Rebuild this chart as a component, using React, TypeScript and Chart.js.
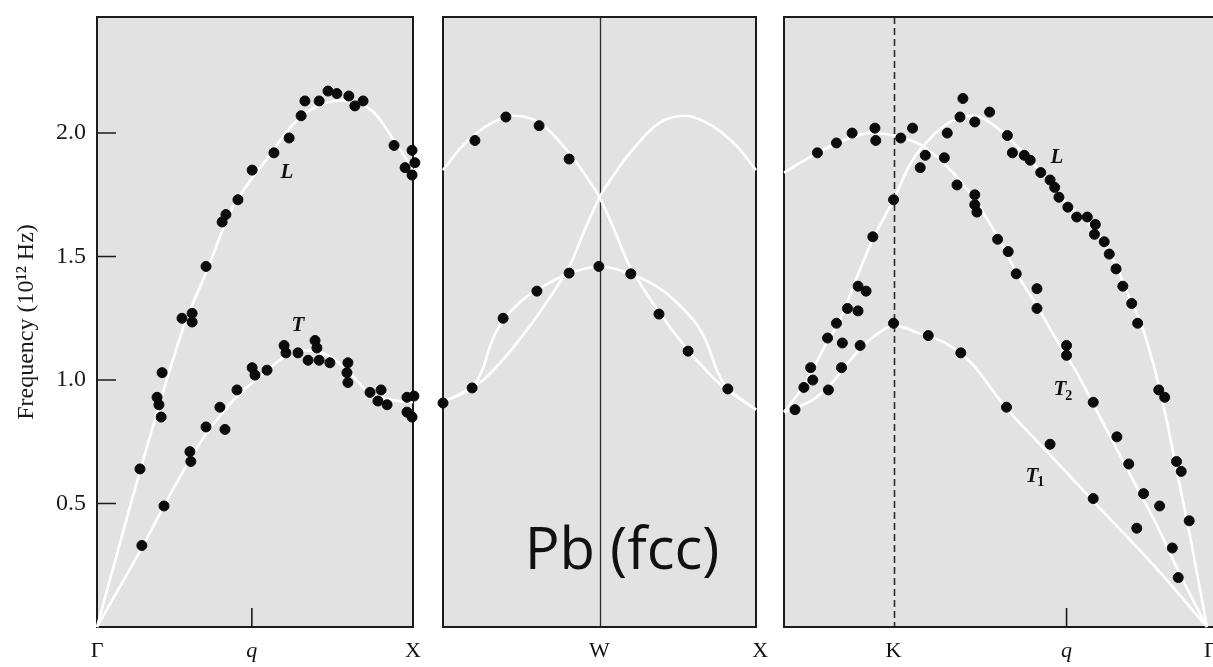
import React, { useEffect, useRef } from "react";
import { Chart, registerables } from "chart.js";

Chart.register(...registerables);

const W = 1213;
const H = 667;
const SERIF = "'Liberation Serif', 'DejaVu Serif', serif";

// ---------- shared axis ----------
const Y_MAX = 2.47;
const yTicks = [0.5, 1.0, 1.5, 2.0];
const yTitle = "Frequency (10¹² Hz)";

// ---------- panel 1 : Γ → X ----------
const p1TickPos = [0, 0.49, 1];
const p1TickLabels = ["Γ", "q", "X"];
const p1InnerTicks = [0.49];
const p1CurveL = [
  [0, 0], [0.136, 0.63], [0.27, 1.2], [0.35, 1.45], [0.43, 1.7], [0.54, 1.9],
  [0.64, 2.06], [0.75, 2.13], [0.86, 2.1], [0.94, 1.97], [1, 1.85],
];
const p1CurveT = [
  [0, 0], [0.142, 0.32], [0.212, 0.49], [0.29, 0.67], [0.35, 0.79], [0.44, 0.93],
  [0.54, 1.04], [0.6, 1.1], [0.66, 1.12], [0.73, 1.1], [0.8, 1.03], [0.86, 0.95],
  [0.93, 0.92], [1, 0.91],
];
const p1Dots = [
  [0.142, 0.33], [0.136, 0.64], [0.19, 0.93], [0.196, 0.9], [0.203, 0.85], [0.206, 1.03],
  [0.212, 0.49], [0.269, 1.25], [0.294, 0.71], [0.297, 0.67], [0.301, 1.27], [0.301, 1.235],
  [0.345, 1.46], [0.345, 0.81], [0.389, 0.89], [0.396, 1.64], [0.405, 0.8], [0.408, 1.67],
  [0.443, 0.96], [0.446, 1.73], [0.491, 1.85], [0.491, 1.05], [0.5, 1.02], [0.538, 1.04],
  [0.56, 1.92], [0.592, 1.14], [0.598, 1.11], [0.608, 1.98], [0.636, 1.11], [0.646, 2.07],
  [0.658, 2.13], [0.668, 1.08], [0.69, 1.16], [0.696, 1.13], [0.703, 1.08], [0.703, 2.13],
  [0.731, 2.17], [0.737, 1.07], [0.759, 2.16], [0.791, 1.03], [0.794, 1.07], [0.794, 0.99],
  [0.797, 2.15], [0.816, 2.11], [0.842, 2.13], [0.864, 0.95], [0.889, 0.915], [0.899, 0.96],
  [0.918, 0.9], [0.94, 1.95], [0.975, 1.86], [0.981, 0.93], [0.981, 0.87], [0.997, 1.93],
  [0.997, 1.83], [0.997, 0.85], [1.003, 0.935], [1.006, 1.88],
];
const p1Notes = [
  { text: "L", sub: "", x: 0.601, y: 1.84 },
  { text: "T", sub: "", x: 0.636, y: 1.22 },
];

// ---------- panel 2 : X → W → X ----------
const p2TickPos = [0.5, 1.013];
const p2TickLabels = ["W", "X"];
const p2Divider = 0.5;
const p2Curve1 = [
  [0, 1.85], [0.064, 1.95], [0.141, 2.03], [0.224, 2.07], [0.31, 2.04], [0.396, 1.93],
  [0.46, 1.82], [0.5, 1.74], [0.55, 1.6], [0.597, 1.46], [0.693, 1.27], [0.783, 1.12],
  [0.863, 1.01], [0.907, 0.96], [1, 0.88],
];
const p2Curve2 = [
  [0, 0.91], [0.093, 0.97], [0.137, 1.01], [0.217, 1.12], [0.307, 1.27], [0.403, 1.46],
  [0.45, 1.6], [0.5, 1.74], [0.54, 1.82], [0.604, 1.93], [0.69, 2.04], [0.776, 2.07],
  [0.859, 2.03], [0.936, 1.95], [1, 1.85],
];
const p2Curve3 = [
  [0, 0.91], [0.093, 0.97], [0.125, 1.04], [0.157, 1.16], [0.192, 1.24], [0.25, 1.32],
  [0.307, 1.37], [0.4, 1.43], [0.5, 1.46], [0.6, 1.43], [0.693, 1.37], [0.75, 1.31],
  [0.808, 1.23], [0.843, 1.15], [0.875, 1.04], [0.907, 0.97], [1, 0.88],
];
const p2Dots = [
  [0.102, 1.97], [0.201, 2.065], [0.307, 2.03], [0.403, 1.895], [0, 0.907], [0.093, 0.968],
  [0.192, 1.25], [0.3, 1.36], [0.403, 1.433], [0.498, 1.46], [0.6, 1.43], [0.69, 1.267],
  [0.783, 1.117], [0.91, 0.964],
];
const p2Title = { text: "Pb (fcc)", x: 0.572, y: 0.231 };

// ---------- panel 3 : X → K → Γ ----------
const p3TickPos = [0.259, 0.668, 1.008];
const p3TickLabels = ["K", "q", "Γ"];
const p3InnerTicks = [0.668];
const p3Divider = 0.259;
const p3CurveT2 = [
  [0, 1.84], [0.079, 1.92], [0.154, 1.98], [0.206, 2.0], [0.259, 1.99], [0.325, 1.95],
  [0.388, 1.86], [0.451, 1.73], [0.505, 1.58], [0.551, 1.43], [0.598, 1.3], [0.645, 1.16],
  [0.692, 1.03], [0.738, 0.88], [0.808, 0.65], [0.879, 0.42], [0.937, 0.21], [1, 0],
];
const p3CurveL = [
  [0, 0.87], [0.044, 0.97], [0.068, 1.04], [0.091, 1.12], [0.131, 1.24], [0.173, 1.42],
  [0.213, 1.58], [0.259, 1.73], [0.294, 1.86], [0.325, 1.94], [0.388, 2.04], [0.451, 2.07],
  [0.505, 2.02], [0.582, 1.89], [0.661, 1.73], [0.738, 1.6], [0.778, 1.49], [0.815, 1.34],
  [0.848, 1.21], [0.89, 0.95], [0.93, 0.62], [0.963, 0.34], [1, 0],
];
const p3CurveT1 = [
  [0, 0.87], [0.068, 0.92], [0.114, 0.99], [0.161, 1.09], [0.208, 1.17], [0.259, 1.22],
  [0.318, 1.19], [0.381, 1.15], [0.442, 1.07], [0.488, 0.97], [0.528, 0.88], [0.633, 0.69],
  [0.731, 0.51], [0.879, 0.24], [1, 0],
];
const p3Dots = [
  [0.026, 0.88], [0.047, 0.97], [0.063, 1.05], [0.068, 1.0], [0.079, 1.92], [0.103, 1.17],
  [0.105, 0.96], [0.124, 1.23], [0.124, 1.96], [0.136, 1.05], [0.138, 1.15], [0.15, 1.29],
  [0.161, 2.0], [0.175, 1.38], [0.175, 1.28], [0.18, 1.14], [0.194, 1.36], [0.21, 1.58],
  [0.215, 2.02], [0.217, 1.97], [0.259, 1.73], [0.259, 1.23], [0.276, 1.98], [0.304, 2.02],
  [0.322, 1.86], [0.334, 1.91], [0.341, 1.18], [0.379, 1.9], [0.386, 2.0], [0.409, 1.79],
  [0.416, 2.065], [0.418, 1.11], [0.423, 2.14], [0.451, 2.045], [0.451, 1.75], [0.451, 1.71],
  [0.456, 1.68], [0.486, 2.085], [0.505, 1.57], [0.526, 0.89], [0.528, 1.99], [0.53, 1.52],
  [0.54, 1.92], [0.549, 1.43], [0.568, 1.91], [0.582, 1.89], [0.598, 1.37], [0.598, 1.29],
  [0.607, 1.84], [0.629, 1.81], [0.629, 0.74], [0.64, 1.78], [0.65, 1.74], [0.668, 1.14],
  [0.668, 1.1], [0.671, 1.7], [0.692, 1.66], [0.717, 1.66], [0.731, 0.91], [0.731, 0.52],
  [0.734, 1.59], [0.736, 1.63], [0.757, 1.56], [0.769, 1.51], [0.785, 1.45], [0.787, 0.77],
  [0.801, 1.38], [0.815, 0.66], [0.822, 1.31], [0.834, 0.4], [0.836, 1.23], [0.85, 0.54],
  [0.886, 0.96], [0.888, 0.49], [0.9, 0.93], [0.918, 0.32], [0.928, 0.67], [0.932, 0.2],
  [0.939, 0.63], [0.958, 0.43],
];
const p3Notes = [
  { text: "L", sub: "", x: 0.645, y: 1.9 },
  { text: "T", sub: "2", x: 0.652, y: 0.96 },
  { text: "T", sub: "1", x: 0.586, y: 0.61 },
];

type Note = { text: string; sub: string; x: number; y: number };
type Panel = {
  area: { left: number; right: number; top: number; bottom: number };
  curves: number[][][];
  dots: number[][];
  tickPos: number[];
  tickLabels: string[];
  innerTicks: number[];
  divider: number | null;
  dashed: boolean;
  showY: boolean;
  openRight: boolean;
  notes: Note[];
  bigText: { text: string; x: number; y: number } | null;
};

const panels: Panel[] = [
  {
    area: { left: 97, right: 413, top: 17, bottom: 627 },
    curves: [p1CurveL, p1CurveT],
    dots: p1Dots,
    tickPos: p1TickPos,
    tickLabels: p1TickLabels,
    innerTicks: p1InnerTicks,
    divider: null,
    dashed: false,
    showY: true,
    openRight: false,
    notes: p1Notes,
    bigText: null,
  },
  {
    area: { left: 443, right: 756, top: 17, bottom: 627 },
    curves: [p2Curve1, p2Curve2, p2Curve3],
    dots: p2Dots,
    tickPos: p2TickPos,
    tickLabels: p2TickLabels,
    innerTicks: [],
    divider: p2Divider,
    dashed: false,
    showY: false,
    openRight: false,
    notes: [],
    bigText: p2Title,
  },
  {
    area: { left: 784, right: 1212, top: 17, bottom: 627 },
    curves: [p3CurveT2, p3CurveL, p3CurveT1],
    dots: p3Dots,
    tickPos: p3TickPos,
    tickLabels: p3TickLabels,
    innerTicks: p3InnerTicks,
    divider: p3Divider,
    dashed: true,
    showY: false,
    openRight: true,
    notes: p3Notes,
    bigText: null,
  },
];

function decorPlugin(p: Panel) {
  return {
    id: "panelDecor",
    beforeDraw(chart: any) {
      const { ctx, chartArea: a } = chart;
      ctx.save();
      ctx.fillStyle = "#e2e2e2";
      const right = p.openRight ? W : a.right;
      ctx.fillRect(a.left, a.top, right - a.left, a.bottom - a.top);
      ctx.restore();
    },
    beforeDatasetsDraw(chart: any) {
      const { ctx, chartArea: a, scales } = chart;
      const xs = scales.x;
      const ys = scales.y;
      ctx.save();
      if (p.divider !== null) {
        const x = Math.round(xs.getPixelForValue(p.divider)) + 0.5;
        ctx.strokeStyle = "#2a2a2a";
        ctx.lineWidth = p.dashed ? 1.6 : 1.3;
        ctx.setLineDash(p.dashed ? [7, 4] : []);
        ctx.beginPath();
        ctx.moveTo(x, a.top);
        ctx.lineTo(x, a.bottom);
        ctx.stroke();
        ctx.setLineDash([]);
      }
      ctx.strokeStyle = "#1c1c1c";
      ctx.lineWidth = 2;
      ctx.beginPath();
      if (p.openRight) {
        ctx.moveTo(W + 2, a.top);
        ctx.lineTo(a.left, a.top);
        ctx.lineTo(a.left, a.bottom);
        ctx.lineTo(W + 2, a.bottom);
      } else {
        ctx.rect(a.left, a.top, a.right - a.left, a.bottom - a.top);
      }
      ctx.stroke();
      ctx.lineWidth = 1.6;
      ctx.beginPath();
      if (p.showY) {
        for (const v of yTicks) {
          const y = ys.getPixelForValue(v);
          ctx.moveTo(a.left, y);
          ctx.lineTo(a.left + 19, y);
        }
      }
      for (const q of p.innerTicks) {
        const x = xs.getPixelForValue(q);
        ctx.moveTo(x, a.bottom);
        ctx.lineTo(x, a.bottom - 19);
      }
      ctx.stroke();
      ctx.restore();
    },
    afterDatasetsDraw(chart: any) {
      const { ctx, chartArea: a, scales } = chart;
      const xs = scales.x;
      const ys = scales.y;
      ctx.save();
      ctx.fillStyle = "#111";
      ctx.textAlign = "center";
      ctx.textBaseline = "middle";
      p.tickPos.forEach((t, i) => {
        const lab = p.tickLabels[i];
        ctx.font = lab === "q" ? `italic 22px ${SERIF}` : `22px ${SERIF}`;
        ctx.fillText(lab, xs.getPixelForValue(t), a.bottom + 24);
      });
      for (const n of p.notes) {
        const x = xs.getPixelForValue(n.x);
        const y = ys.getPixelForValue(n.y);
        ctx.font = `italic bold 21px ${SERIF}`;
        ctx.textAlign = "center";
        ctx.fillText(n.text, x, y);
        if (n.sub) {
          const w = ctx.measureText(n.text).width;
          ctx.font = `bold 14px ${SERIF}`;
          ctx.textAlign = "left";
          ctx.fillText(n.sub, x + w / 2 - 1, y + 6);
        }
      }
      if (p.bigText) {
        ctx.font = `58px 'Open Sans', 'Noto Sans', sans-serif`;
        ctx.textAlign = "center";
        ctx.textBaseline = "alphabetic";
        ctx.fillText(p.bigText.text, xs.getPixelForValue(p.bigText.x), ys.getPixelForValue(p.bigText.y) - 1);
      }
      ctx.restore();
    },
  };
}

function PanelChart({ p }: { p: Panel }) {
  const ref = useRef<HTMLCanvasElement | null>(null);
  useEffect(() => {
    if (!ref.current) return;
    const a = p.area;
    const datasets: any[] = [
      {
        type: "scatter",
        data: p.dots.map(([x, y]) => ({ x, y })),
        pointRadius: 5,
        pointBackgroundColor: "#0b0b0b",
        pointBorderColor: "#0b0b0b",
        pointBorderWidth: 1,
        clip: false,
        order: 0,
      },
      ...p.curves.map((c) => ({
        type: "line",
        data: c.map(([x, y]) => ({ x, y })),
        borderColor: "#ffffff",
        borderWidth: 2.6,
        pointRadius: 0,
        tension: 0.35,
        fill: false,
        clip: 3,
        order: 1,
      })),
    ];
    const yScale: any = {
      type: "linear",
      min: 0,
      max: Y_MAX,
      display: p.showY,
      afterBuildTicks: (s: any) => {
        s.ticks = yTicks.map((v) => ({ value: v }));
      },
      grid: { display: false, drawTicks: false },
      border: { display: false },
      ticks: {
        font: { family: SERIF, size: 24 },
        color: "#1a1a1a",
        padding: 11,
        callback: (v: any) => Number(v).toFixed(1),
      },
      title: {
        display: true,
        text: yTitle,
        font: { family: SERIF, size: 24 },
        color: "#1a1a1a",
        padding: { top: 12, bottom: 0 },
      },
    };
    if (p.showY) {
      yScale.afterFit = (s: any) => {
        s.width = a.left;
        s.paddingTop = 0;
        s.paddingBottom = 0;
      };
    }
    const chart = new Chart(ref.current, {
      type: "scatter",
      data: { datasets },
      options: {
        animation: false,
        responsive: false,
        events: [],
        layout: {
          padding: {
            left: p.showY ? 0 : a.left,
            right: W - a.right,
            top: a.top,
            bottom: H - a.bottom,
          },
        },
        plugins: { legend: { display: false }, tooltip: { enabled: false } },
        scales: {
          x: { type: "linear", min: 0, max: 1, display: false },
          y: yScale,
        },
      } as any,
      plugins: [decorPlugin(p)],
    });
    return () => chart.destroy();
  }, [p]);
  return (
    <canvas
      ref={ref}
      width={W}
      height={H}
      style={{ position: "absolute", left: 0, top: 0, width: W, height: H }}
    />
  );
}

export default function App() {
  return (
    <div
      style={{
        position: "fixed",
        left: 0,
        top: 0,
        width: W,
        height: H,
        overflow: "hidden",
        background: "#ffffff",
      }}
    >
      {panels.map((p, i) => (
        <PanelChart key={i} p={p} />
      ))}
    </div>
  );
}
